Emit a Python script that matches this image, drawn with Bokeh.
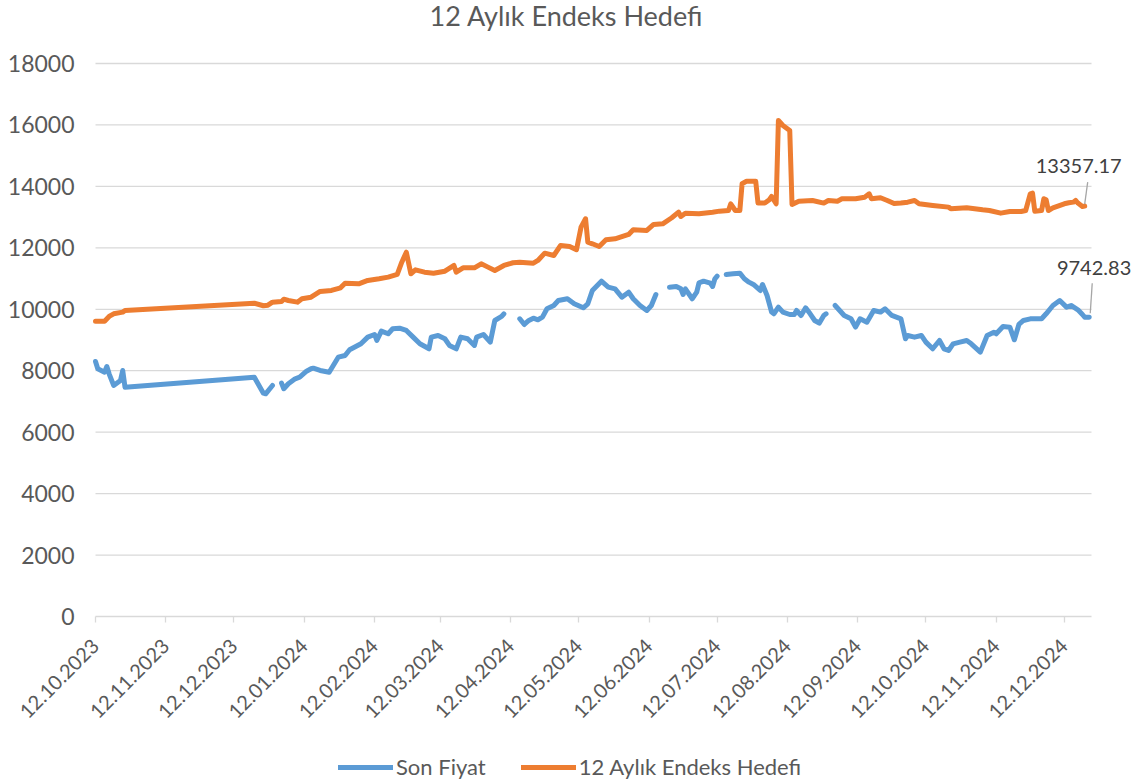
import numpy as np
import pandas as pd
from bokeh.plotting import figure
from bokeh.models import (ColumnDataSource, FixedTicker, DatetimeTickFormatter,
                          Legend, LegendItem, Label, Range1d)
from bokeh.embed import file_html
from bokeh.resources import INLINE

# ---------------- data ----------------
title_text = "12 Aylık Endeks Hedefi"
series_names = ["Son Fiyat", "12 Aylık Endeks Hedefi"]

tick_dates = ["2023-10-12", "2023-11-12", "2023-12-12", "2024-01-12", "2024-02-12",
              "2024-03-12", "2024-04-12", "2024-05-12", "2024-06-12", "2024-07-12",
              "2024-08-12", "2024-09-12", "2024-10-12", "2024-11-12", "2024-12-12"]
y_ticks = [0, 2000, 4000, 6000, 8000, 10000, 12000, 14000, 16000, 18000]

son_fiyat_dates = [
    "2023-10-12", "2023-10-13", "2023-10-16", "2023-10-17", "2023-10-18", "2023-10-20",
    "2023-10-23", "2023-10-24", "2023-10-25", "2023-12-21", "2023-12-25", "2023-12-26",
    "2023-12-29", "2023-12-31", "2024-01-02", "2024-01-03", "2024-01-05", "2024-01-08",
    "2024-01-10", "2024-01-13", "2024-01-15", "2024-01-16", "2024-01-19", "2024-01-23",
    "2024-01-27", "2024-01-30", "2024-02-01", "2024-02-06", "2024-02-09", "2024-02-12",
    "2024-02-13", "2024-02-15", "2024-02-18", "2024-02-20", "2024-02-23", "2024-02-26",
    "2024-02-29", "2024-03-03", "2024-03-07", "2024-03-08", "2024-03-11", "2024-03-14",
    "2024-03-16", "2024-03-19", "2024-03-21", "2024-03-24", "2024-03-27", "2024-03-28",
    "2024-03-31", "2024-04-03", "2024-04-05", "2024-04-08", "2024-04-09", "2024-04-12",
    "2024-04-16", "2024-04-18", "2024-04-20", "2024-04-22", "2024-04-24", "2024-04-26",
    "2024-04-28", "2024-05-01", "2024-05-03", "2024-05-07", "2024-05-10", "2024-05-14",
    "2024-05-16", "2024-05-18", "2024-05-22", "2024-05-25", "2024-05-28", "2024-05-31",
    "2024-06-03", "2024-06-05", "2024-06-08", "2024-06-11", "2024-06-13", "2024-06-15",
    "2024-06-18", "2024-06-21", "2024-06-24", "2024-06-26", "2024-06-27", "2024-06-28",
    "2024-07-01", "2024-07-03", "2024-07-04", "2024-07-06", "2024-07-09", "2024-07-10",
    "2024-07-11", "2024-07-12", "2024-07-14", "2024-07-16", "2024-07-19", "2024-07-22",
    "2024-07-24", "2024-07-26", "2024-07-28", "2024-07-31", "2024-08-01", "2024-08-03",
    "2024-08-05", "2024-08-06", "2024-08-08", "2024-08-10", "2024-08-13", "2024-08-15",
    "2024-08-16", "2024-08-18", "2024-08-20", "2024-08-22", "2024-08-24", "2024-08-26",
    "2024-08-28", "2024-08-29", "2024-08-31", "2024-09-02", "2024-09-04", "2024-09-06",
    "2024-09-09", "2024-09-11", "2024-09-13", "2024-09-16", "2024-09-19", "2024-09-22",
    "2024-09-24", "2024-09-27", "2024-10-01", "2024-10-03", "2024-10-04", "2024-10-07",
    "2024-10-10", "2024-10-12", "2024-10-15", "2024-10-18", "2024-10-20", "2024-10-22",
    "2024-10-24", "2024-10-27", "2024-10-30", "2024-11-01", "2024-11-05", "2024-11-08",
    "2024-11-11", "2024-11-12", "2024-11-15", "2024-11-18", "2024-11-20", "2024-11-22",
    "2024-11-24", "2024-11-27", "2024-12-02", "2024-12-04", "2024-12-07", "2024-12-10",
    "2024-12-13", "2024-12-15", "2024-12-18", "2024-12-20", "2024-12-21", "2024-12-23"]
son_fiyat = [
    8300, 8063, 7952, 8138, 7900, 7520,
    7682, 8008, 7464, 7790, 7269, 7249,
    7520, None, 7595, 7413, 7575, 7738,
    7790, 7985, 8063, 8083, 8008, 7952,
    8441, 8496, 8681, 8876, 9093, 9180,
    8984, 9288, 9202, 9365, 9386, 9310,
    9093, 8876, 8714, 9093, 9148, 9040,
    8822, 8714, 9093, 9040, 8822, 9093,
    9180, 8930, 9635, 9766, 9853, None,
    9690, 9505, 9635, 9711, 9658, 9743,
    10015, 10124, 10286, 10342, 10179, 10048,
    10179, 10612, 10915, 10720, 10666, 10394,
    10557, 10342, 10124, 9961, 10124, 10482,
    None, 10720, 10742, 10666, 10482, 10666,
    10342, 10557, 10862, 10915, 10851, 10742,
    10993, 11080, None, 11133, 11155, 11175,
    10993, 10883, 10807, 10612, 10807, 10449,
    9908, 9853, 10069, 9908, 9830, 9830,
    9961, 9798, 10048, 9853, 9635, 9548,
    9798, 9853, None, 10124, 9961, 9798,
    9690, 9418, 9690, 9580, 9961, 9908,
    10015, 9800, 9690, 9040, 9148, 9093,
    9148, 8930, 8714, 8984, 8714, 8659,
    8876, 8930, 8984, 8876, 8605, 9148,
    9255, 9202, 9440, 9418, 9007, 9505,
    9635, 9690, 9690, 9853, 10124, 10286,
    10069, 10124, 9983, 9830, 9743, 9742.83]

hedef_dates = [
    "2023-10-12", "2023-10-16", "2023-10-18", "2023-10-20", "2023-10-24", "2023-10-25",
    "2023-12-21", "2023-12-25", "2023-12-27", "2023-12-29", "2024-01-02", "2024-01-03",
    "2024-01-05", "2024-01-09", "2024-01-11", "2024-01-15", "2024-01-19", "2024-01-24",
    "2024-01-28", "2024-01-30", "2024-02-05", "2024-02-09", "2024-02-14", "2024-02-18",
    "2024-02-22", "2024-02-24", "2024-02-26", "2024-02-28", "2024-03-01", "2024-03-05",
    "2024-03-09", "2024-03-14", "2024-03-18", "2024-03-19", "2024-03-22", "2024-03-27",
    "2024-03-30", "2024-04-02", "2024-04-05", "2024-04-09", "2024-04-13", "2024-04-16",
    "2024-04-22", "2024-04-24", "2024-04-27", "2024-05-01", "2024-05-04", "2024-05-08",
    "2024-05-11", "2024-05-13", "2024-05-15", "2024-05-16", "2024-05-18", "2024-05-21",
    "2024-05-24", "2024-05-28", "2024-06-03", "2024-06-05", "2024-06-11", "2024-06-14",
    "2024-06-18", "2024-06-22", "2024-06-25", "2024-06-26", "2024-06-28", "2024-07-04",
    "2024-07-10", "2024-07-13", "2024-07-17", "2024-07-18", "2024-07-20", "2024-07-22",
    "2024-07-23", "2024-07-25", "2024-07-29", "2024-07-30", "2024-08-02", "2024-08-04",
    "2024-08-05", "2024-08-07", "2024-08-08", "2024-08-10", "2024-08-13", "2024-08-14",
    "2024-08-17", "2024-08-23", "2024-08-28", "2024-08-30", "2024-09-03", "2024-09-05",
    "2024-09-11", "2024-09-15", "2024-09-17", "2024-09-18", "2024-09-22", "2024-09-25",
    "2024-09-28", "2024-10-01", "2024-10-04", "2024-10-07", "2024-10-09", "2024-10-15",
    "2024-10-22", "2024-10-23", "2024-10-30", "2024-11-06", "2024-11-09", "2024-11-14",
    "2024-11-18", "2024-11-23", "2024-11-25", "2024-11-27", "2024-11-28", "2024-11-29",
    "2024-12-02", "2024-12-03", "2024-12-04", "2024-12-05", "2024-12-07", "2024-12-12",
    "2024-12-14", "2024-12-16", "2024-12-17", "2024-12-18", "2024-12-20", "2024-12-21"]
hedef = [
    9613, 9613, 9766, 9853, 9908, 9961,
    10199, 10114, 10134, 10232, 10254, 10329,
    10286, 10232, 10342, 10394, 10579, 10612,
    10699, 10851, 10829, 10938, 10993, 11046,
    11133, 11533, 11859, 11155, 11285, 11208,
    11175, 11240, 11426, 11208, 11350, 11350,
    11481, 11372, 11263, 11426, 11514, 11533,
    11502, 11589, 11827, 11751, 12077, 12044,
    11937, 12673, 12945, 12185, 12132, 12044,
    12262, 12294, 12435, 12588, 12565, 12760,
    12782, 12978, 13161, 13021, 13129, 13107,
    13161, 13194, 13216, 13434, 13216, 13216,
    14085, 14170, 14170, 13457, 13457, 13565,
    13672, 13434, 16146, 15983, 15820, 13411,
    13519, 13542, 13457, 13542, 13519, 13596,
    13596, 13649, 13758, 13596, 13630, 13542,
    13440, 13457, 13487, 13542, 13434, 13379,
    13325, 13270, 13303, 13238, 13216, 13129,
    13183, 13183, 13216, 13758, 13780, 13194,
    13216, 13596, 13563, 13216, 13303, 13434,
    13466, 13487, 13542, 13457, 13346, 13357.17]

x_start, x_end = "2023-10-12", "2024-12-24"

# ---------------- styles / layout ----------------
BLUE = "#5B9BD5"
ORANGE = "#ED7D31"
TEXT = "#595959"
LABEL_TEXT = "#404040"
GRID = "#D9D9D9"
FONT = "Lato"

W = 1132            # canvas width (the frame spans it fully)
H = 782             # canvas height (the frame spans it fully)
LEFT = 95           # canvas x of the first date
DATA_W = 996        # px covered by x_start..x_end
TOP_GRID = 63       # canvas y of the top grid line
ZERO_Y = 616        # canvas y of the zero line
DATA_H = ZERO_Y - TOP_GRID


def ms(d):
    return pd.Timestamp(d).value / 1e6


x0_ms, x1_ms = ms(x_start), ms(x_end)
ms_per_px = (x1_ms - x0_ms) / DATA_W
val_per_px = (y_ticks[-1] - y_ticks[0]) / DATA_H

src_son = ColumnDataSource(dict(
    x=pd.to_datetime(son_fiyat_dates),
    y=np.array([np.nan if v is None else v for v in son_fiyat], dtype=float)))
src_hedef = ColumnDataSource(dict(x=pd.to_datetime(hedef_dates), y=np.array(hedef, dtype=float)))

p = figure(frame_width=W, frame_height=H, x_axis_type="datetime",
           output_backend="svg", toolbar_location=None,
           x_range=Range1d(x0_ms - LEFT * ms_per_px, x0_ms + (W - LEFT) * ms_per_px),
           y_range=Range1d(y_ticks[0] - (H - ZERO_Y) * val_per_px,
                           y_ticks[0] + ZERO_Y * val_per_px),
           min_border_left=0, min_border_right=0, min_border_top=0, min_border_bottom=0)
p.outline_line_color = None
p.background_fill_color = "white"
p.border_fill_color = "white"

# x axis drawn at value 0 inside the frame
xa = p.xaxis[0]
xa.fixed_location = y_ticks[0]
xa.ticker = FixedTicker(ticks=[ms(d) for d in tick_dates])
fmt = "%d.%m.%Y"
xa.formatter = DatetimeTickFormatter(microseconds=fmt, milliseconds=fmt, seconds=fmt,
                                     minsec=fmt, minutes=fmt, hourmin=fmt, hours=fmt,
                                     days=fmt, months=fmt, years=fmt)
xa.bounds = (x0_ms, x1_ms)
xa.major_label_orientation = np.pi / 4
xa.major_label_text_font = FONT
xa.major_label_text_font_size = "20px"
xa.major_label_text_color = TEXT
xa.axis_line_color = GRID
xa.axis_line_width = 1.3
xa.major_tick_line_color = GRID
xa.major_tick_line_width = 1.3
xa.major_tick_out = 6
xa.major_tick_in = 0
xa.minor_tick_line_color = None
xa.minor_tick_out = 0
xa.major_label_standoff = 20

# y axis drawn at the first date inside the frame
ya = p.yaxis[0]
ya.fixed_location = x0_ms
ya.ticker = FixedTicker(ticks=y_ticks)
ya.bounds = (y_ticks[0], y_ticks[-1])
ya.major_label_text_font = FONT
ya.major_label_text_font_size = "23px"
ya.major_label_text_color = TEXT
ya.axis_line_color = None
ya.major_tick_line_color = None
ya.major_tick_out = 0
ya.major_tick_in = 0
ya.minor_tick_line_color = None
ya.minor_tick_out = 0
ya.major_label_standoff = 21

p.xgrid.visible = False
p.ygrid.visible = False

# horizontal grid lines, spanning the date range only
grid_y = y_ticks[1:]
p.segment(x0=[x0_ms] * len(grid_y), x1=[x1_ms] * len(grid_y), y0=grid_y, y1=grid_y,
          line_color=GRID, line_width=1.3, level="underlay")

# lines
r_son = p.line("x", "y", source=src_son, line_color=BLUE, line_width=5,
               line_join="round", line_cap="round")
r_hedef = p.line("x", "y", source=src_hedef, line_color=ORANGE, line_width=5,
                 line_join="round", line_cap="round")

# title (drawn as a label above the grid)
p.add_layout(Label(x=566, y=H - 15, x_units="screen", y_units="screen",
                   text=title_text, text_align="center", text_baseline="alphabetic",
                   text_font=FONT, text_font_size="27px", text_color=TEXT))

# data labels at the last points with leader lines
last_h_x, last_h_y = ms(hedef_dates[-1]), hedef[-1]
last_s_x, last_s_y = ms(son_fiyat_dates[-1]), son_fiyat[-1]

p.segment(x0=[last_h_x, last_s_x + 1 * ms_per_px],
          y0=[last_h_y + 2 * val_per_px, last_s_y + 4 * val_per_px],
          x1=[last_h_x + 3 * ms_per_px, last_s_x + 3 * ms_per_px],
          y1=[last_h_y + 24 * val_per_px, last_s_y + 34 * val_per_px],
          line_color="#A6A6A6", line_width=1.3)

p.add_layout(Label(x=last_h_x, y=last_h_y, text=f"{last_h_y:.2f}", x_offset=-6, y_offset=40,
                   text_align="center", text_baseline="alphabetic", text_font=FONT,
                   text_font_size="20px", text_color=LABEL_TEXT))
p.add_layout(Label(x=last_s_x, y=last_s_y, text=f"{last_s_y:.2f}", x_offset=42, y_offset=49,
                   text_align="right", text_baseline="alphabetic", text_font=FONT,
                   text_font_size="20px", text_color=LABEL_TEXT))

legend = Legend(items=[LegendItem(label=series_names[0], renderers=[r_son]),
                       LegendItem(label=series_names[1], renderers=[r_hedef])],
                orientation="horizontal", location=(LEFT + 243, 2),
                label_text_font=FONT, label_text_font_size="22px", label_text_color=TEXT,
                glyph_width=55, glyph_height=20, label_standoff=3, spacing=35,
                border_line_color=None, background_fill_alpha=0,
                padding=2, margin=0)
p.add_layout(legend, "center")

open("out.html", "w").write(file_html(p, INLINE))
